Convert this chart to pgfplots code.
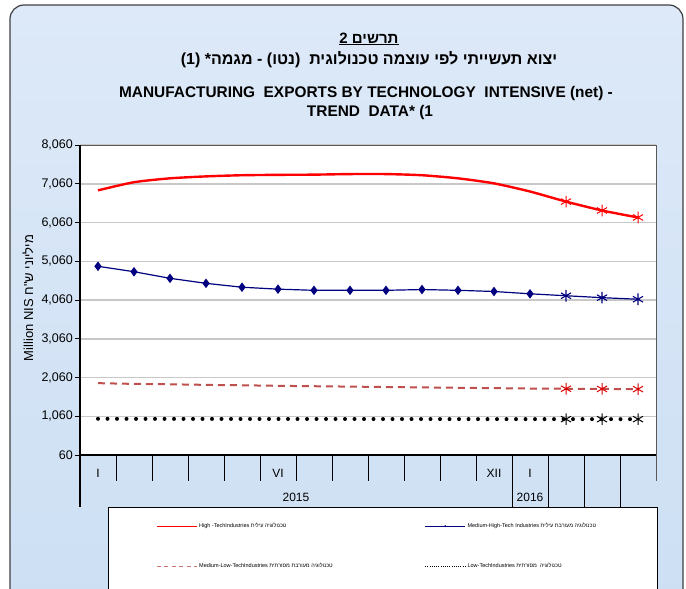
\documentclass[border=0pt]{standalone}
\usepackage{pgfplots}
\pgfplotsset{compat=1.18}
\usepackage{pgfplotstable}
\usepackage{fontspec}
\setmainfont{Liberation Sans}
\newfontfamily\hebfont[Script=Hebrew]{Liberation Sans}
\TeXXeTstate=1
\definecolor{bgtop}{HTML}{DDE9F8}
\definecolor{bgbot}{HTML}{CCDFF3}
\definecolor{navyline}{HTML}{000080}
\definecolor{dashred}{HTML}{C0504D}
\definecolor{gridgray}{HTML}{C8C8C8}

\pgfplotstableread{
idx high medhigh medlow low
0  6890 4930 1914 995
1  7100 4790 1895 993
2  7200 4620 1885 992
3  7250 4490 1870 991
4  7280 4390 1860 990
5  7290 4340 1845 990
6  7295 4310 1835 989
7  7310 4310 1825 989
8  7310 4310 1815 988
9  7280 4330 1805 988
10 7200 4310 1795 987
11 7070 4280 1785 987
12 6860 4220 1775 986
13 6600 4170 1770 986
14 6370 4120 1765 985
15 6190 4080 1760 985
}\datatable

\begin{document}
\begin{tikzpicture}[x=1pt,y=1pt]
\useasboundingbox (0,0) rectangle (686,-589);
\shade[top color=bgtop,bottom color=bgbot,draw=black!75,line width=1.2pt,rounded corners=14pt] (10,-5) rectangle (683,-640);

\node[font=\bfseries\fontsize{15}{17}\selectfont] at (369,-39) {\underline{\hebfont\beginR תרשים 2\endR}};
\node[font=\bfseries\fontsize{16}{18}\selectfont] at (369,-60) {\hebfont\beginR יצוא תעשייתי לפי עוצמה טכנולוגית\ \ (נטו) - מגמה* (1)\endR};
\node[font=\bfseries\fontsize{15.4}{17}\selectfont] at (366,-94) {MANUFACTURING\ \ EXPORTS BY TECHNOLOGY\ \ INTENSIVE (net) -};
\node[font=\bfseries\fontsize{15.4}{17}\selectfont] at (370,-113) {TREND\ \ DATA* (1};

% legend box
\draw[black, line width=0.8pt, fill=white] (108,-507) rectangle (657,-600);

\begin{axis}[
  at={(80pt,-455pt)}, anchor=south west, scale only axis,
  width=576pt, height=310pt,
  xmin=-0.5, xmax=15.5, ymin=60, ymax=8060,
  xtick=\empty,
  ytick={60,1060,2060,3060,4060,5060,6060,7060,8060},
  ytick pos=left,
  /pgf/number format/1000 sep={,},
  /pgf/number format/assume math mode=true,
  yticklabel style={font=\fontsize{12.5}{14}\selectfont, inner sep=2pt},
  ymajorgrids, grid style={gridgray, line width=1.5pt},
  axis background/.style={fill=white},
  axis line style={draw=gray!70!black, line width=1pt},
  tick align=outside, major tick length=5pt,
  ytick style={black, line width=0.8pt},
  clip=false,
  legend columns=2,
  legend cell align=left,
  legend style={at={(0.0486,-0.1677)}, anchor=north west, draw=none, fill=none,
    font=\fontsize{5.5}{6}\selectfont, inner xsep=48pt, inner ysep=14pt, row sep=30pt,
    /tikz/every even column/.append style={column sep=90pt}},
]
\addplot[red, line width=2.4pt, smooth, tension=0.4, no markers, forget plot] table[x=idx,y=high]{\datatable};
\addplot[navyline, line width=1.2pt, mark=diamond*, mark size=3.8pt, mark indices={1,2,3,4,5,6,7,8,9,10,11,12,13}, forget plot] table[x=idx,y=medhigh]{\datatable};
\addplot[dashred, line width=2pt, dash pattern=on 7pt off 5pt, forget plot] table[x=idx,y=medlow]{\datatable};
\addplot[black, line width=4pt, line cap=round, dash pattern=on 0pt off 9.5pt, forget plot] table[x=idx,y=low]{\datatable};

\addplot[red, only marks, mark=asterisk, mark size=5.8pt, line width=1pt, mark indices={14,15,16}, forget plot] table[x=idx,y=high]{\datatable};
\addplot[navyline, only marks, mark=asterisk, mark size=5.8pt, line width=1.1pt, mark indices={14,15,16}, forget plot] table[x=idx,y=medhigh]{\datatable};
\addplot[red!85!black, only marks, mark=asterisk, mark size=5.8pt, line width=1pt, mark indices={14,15,16}, forget plot] table[x=idx,y=medlow]{\datatable};
\addplot[black, only marks, mark=asterisk, mark size=5.8pt, line width=1pt, mark indices={14,15,16}, forget plot] table[x=idx,y=low]{\datatable};

\addlegendimage{legend image code/.code={\draw[draw=red, line width=1pt] (0pt,0pt) -- (40pt,0pt);}}
\addlegendentry{High -TechIndustries {\hebfont\beginR טכנולוגיה עילית\endR}}
\addlegendimage{legend image code/.code={\draw[draw=navyline, line width=0.8pt] (0pt,0pt) -- (40pt,0pt); \fill[navyline] (20pt,0pt) circle (0.8pt);}}
\addlegendentry{Medium-High-Tech Industries {\hebfont\beginR טכנולוגיה מעורבת עילית\endR}}
\addlegendimage{legend image code/.code={\draw[draw=dashred!80, line width=1pt, dash pattern=on 4pt off 3.5pt] (0pt,0pt) -- (40pt,0pt);}}
\addlegendentry{Medium-Low-TechIndustries {\hebfont\beginR טכנולוגיה מעורבת מסורתית\endR}}
\addlegendimage{legend image code/.code={\draw[draw=black, line width=0.6pt, dash pattern=on 0.6pt off 1.6pt] (0pt,0pt) -- (40pt,0pt);}}
\addlegendentry{Low-TechIndustries {\hebfont\beginR טכנולוגיה\ \ מסורתית\endR}}
\end{axis}

% category axis decorations
\draw[black, line width=1.2pt] (80,-145) -- (80,-507);
\draw[black, line width=1.2pt] (80,-455) -- (656,-455);
\foreach \k in {1,...,11} \draw[black, line width=1pt] (80+36*\k,-455) -- ++(0,-26);
\foreach \k in {12,...,15} \draw[black, line width=1pt] (80+36*\k,-455) -- ++(0,-52);
\draw[gray!70!black, line width=1pt] (656,-455) -- ++(0,-26);
\node[font=\fontsize{12}{14}\selectfont] at (98,-473) {I};
\node[font=\fontsize{12}{14}\selectfont] at (278,-473) {VI};
\node[font=\fontsize{12}{14}\selectfont] at (494,-473) {XII};
\node[font=\fontsize{12}{14}\selectfont] at (530,-473) {I};
\node[font=\fontsize{12}{14}\selectfont] at (296,-497) {2015};
\node[font=\fontsize{12}{14}\selectfont] at (530,-497) {2016};

\node[rotate=90, font=\fontsize{13}{15}\selectfont] at (28,-298) {Million NIS {\hebfont\beginR מיליוני ש"ח\endR}};
\end{tikzpicture}
\end{document}
